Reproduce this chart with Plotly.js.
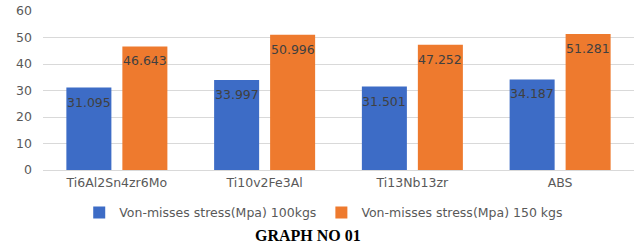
<!DOCTYPE html>
<html>
<head>
<meta charset="utf-8">
<script src="https://cdn.plot.ly/plotly-3.0.1.min.js"></script>
<style>html,body{margin:0;padding:0;background:#fff;}</style>
</head>
<body>
<div id="chart" style="width:634px;height:247px;"></div>
<script>
const categories = ["Ti6Al2Sn4zr6Mo", "Ti10v2Fe3Al", "Ti13Nb13zr", "ABS"];
const stress100 = [31.095, 33.997, 31.501, 34.187];
const stress150 = [46.643, 50.996, 47.252, 51.281];
const labelText100 = ["31.095", "33.997", "31.501", "34.187"];
const labelText150 = ["46.643", "50.996", "47.252", "51.281"];
const seriesNames = ["Von-misses stress(Mpa) 100kgs", "Von-misses stress(Mpa) 150 kgs"];
const yTicks = [0, 10, 20, 30, 40, 50, 60];
const captionText = "GRAPH NO 01";

const tickFont = {family: "DejaVu Sans", size: 12.5, color: "#595959"};
const labelFont = {family: "DejaVu Sans", size: 12.5, color: "#404040"};

const traces = [
  {type: "bar", x: categories, y: stress100, name: seriesNames[0],
   marker: {color: "#3D6CC6"}, hoverinfo: "none"},
  {type: "bar", x: categories, y: stress150, name: seriesNames[1],
   marker: {color: "#EE7A2E"}, hoverinfo: "none"}
];

const annotations = [];
categories.forEach((c, i) => {
  annotations.push({x: c, y: stress100[i], xref: "x", yref: "y", text: labelText100[i],
    showarrow: false, xshift: -28, yshift: -14.5, yanchor: "middle", font: labelFont});
  annotations.push({x: c, y: stress150[i], xref: "x", yref: "y", text: labelText150[i],
    showarrow: false, xshift: 28, yshift: -14.5, yanchor: "middle", font: labelFont});
});
annotations.push({x: 0.449, y: -0.415, xref: "paper", yref: "paper", text: "<b>" + captionText + "</b>",
  showarrow: false, xanchor: "center", yanchor: "middle",
  font: {family: "Liberation Serif", size: 16, color: "#000"}});

const layout = {
  width: 634, height: 247,
  margin: {l: 43, r: 0, t: 11, b: 77, pad: 0},
  paper_bgcolor: "#fff", plot_bgcolor: "#fff",
  barmode: "group", bargap: 0.242, bargroupgap: 0.196,
  showlegend: true,
  legend: {orientation: "h", x: 0.475, xanchor: "center", y: -0.27, yanchor: "middle",
    font: {family: "DejaVu Sans", size: 12.5, color: "#595959"}, traceorder: "normal"},
  xaxis: {type: "category", showgrid: false, zeroline: false, showline: false,
    tickfont: tickFont, ticks: "", ticklabelstandoff: 3},
  yaxis: {range: [0, 60], tickvals: yTicks, showgrid: true, gridcolor: "#d9d9d9", gridwidth: 1,
    zeroline: true, zerolinecolor: "#d9d9d9", showline: false, ticks: "",
    tickfont: tickFont, ticklabelstandoff: 10},
  annotations: annotations
};

Plotly.newPlot("chart", traces, layout, {staticPlot: true, displayModeBar: false});
</script>
</body>
</html>
